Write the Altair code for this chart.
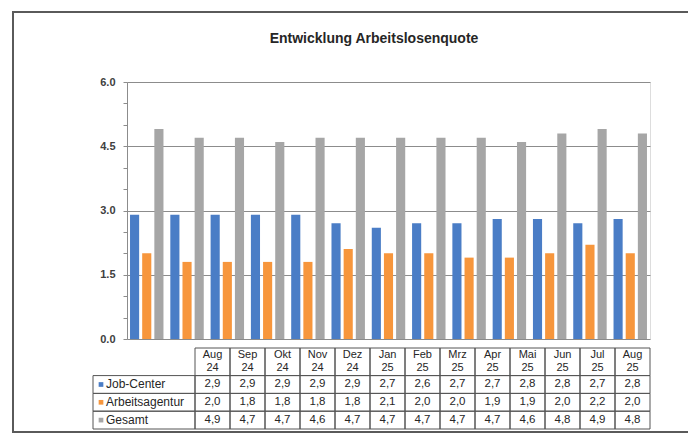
import altair as alt
import pandas as pd

# ---------------- data ----------------
months = ["Aug 24", "Sep 24", "Okt 24", "Nov 24", "Dez 24", "Jan 25", "Feb 25",
          "Mrz 25", "Apr 25", "Mai 25", "Jun 25", "Jul 25", "Aug 25"]
series = ["Job-Center", "Arbeitsagentur", "Gesamt"]
job_center = [2.9, 2.9, 2.9, 2.9, 2.9, 2.7, 2.6, 2.7, 2.7, 2.8, 2.8, 2.7, 2.8]
arbeitsagentur = [2.0, 1.8, 1.8, 1.8, 1.8, 2.1, 2.0, 2.0, 1.9, 1.9, 2.0, 2.2, 2.0]
gesamt = [4.9, 4.7, 4.7, 4.6, 4.7, 4.7, 4.7, 4.7, 4.7, 4.6, 4.8, 4.9, 4.8]
y_ticks = [0.0, 1.5, 3.0, 4.5, 6.0]
colors = ["#4A7DC6", "#F7963C", "#A6A6A6"]
chart_title = "Entwicklung  Arbeitslosenquote"

values_by_series = {"Job-Center": job_center, "Arbeitsagentur": arbeitsagentur, "Gesamt": gesamt}

# ---------------- layout (pixels, plot-area coordinates) ----------------
W, H = 523, 257
PAD = {"left": 119, "top": 74, "right": 38, "bottom": 94}   # whole svg = 680 x 425
TABLE_X = [68, 523]          # data columns of the table
LEG_X = [-34, 68]            # legend column of the table
TABLE_Y = [266, 347]         # table top / bottom
HEADER_UNITS = 1.55          # header row is taller than a data row
FONT = "Liberation Sans"

# bars
bar_rows = []
for s in series:
    for m, v in zip(months, values_by_series[s]):
        bar_rows.append({"month": m, "series": s, "value": v})
bar_df = pd.DataFrame(bar_rows)

# table cells
head_rows = [{"month": m, "y0": 0.0, "y1": HEADER_UNITS, "mid": HEADER_UNITS / 2, "text": m}
             for m in months]
val_rows = []
for i, s in enumerate(series):
    y0 = HEADER_UNITS + i
    for m, v in zip(months, values_by_series[s]):
        val_rows.append({"month": m, "y0": y0, "y1": y0 + 1, "mid": y0 + 0.5,
                         "text": f"{v:.1f}".replace(".", ",")})
head_df = pd.DataFrame(head_rows)
val_df = pd.DataFrame(val_rows)
cell_df = pd.concat([head_df, val_df], ignore_index=True)

leg_df = pd.DataFrame([{"series": s, "y0": HEADER_UNITS + i, "y1": HEADER_UNITS + i + 1,
                        "mid": HEADER_UNITS + i + 0.5} for i, s in enumerate(series)])

row_scale = alt.Scale(domain=[0, HEADER_UNITS + len(series)], range=TABLE_Y, nice=False, zero=False)
col_scale = alt.Scale(domain=months, range=TABLE_X, paddingInner=0, paddingOuter=0)
color_scale = alt.Scale(domain=series, range=colors)

major_test = "abs(datum.value / 1.5 - round(datum.value / 1.5)) < 0.01"
minor_vals = [i * 0.5 for i in range(int(y_ticks[-1] / 0.5) + 1)]

bars = alt.Chart(bar_df).mark_bar().encode(
    x=alt.X("month:N", sort=months, title=None, axis=None,
            scale=alt.Scale(domain=months, paddingInner=0.17, paddingOuter=0.075)),
    xOffset=alt.XOffset("series:N", sort=series,
                        scale=alt.Scale(domain=series, paddingInner=0.25, paddingOuter=0)),
    y=alt.Y("value:Q", title=None,
            scale=alt.Scale(domain=[y_ticks[0], y_ticks[-1]], nice=False),
            axis=alt.Axis(values=minor_vals,
                          labelExpr=f"{major_test} ? format(datum.value, '.1f') : ''",
                          grid=True,
                          gridOpacity={"condition": {"test": major_test, "value": 1}, "value": 0},
                          gridColor="#8C8C8C", gridWidth=1,
                          tickSize=4, tickColor="#8C8C8C", domainColor="#8C8C8C",
                          labelFontSize=11, labelFontWeight="bold", labelColor="#404040",
                          labelPadding=8, labelFont=FONT)),
    color=alt.Color("series:N", scale=color_scale, legend=None),
)

cells = alt.Chart(cell_df).mark_rect(fillOpacity=0, stroke="#555555", strokeWidth=1).encode(
    x=alt.X("month:N", scale=col_scale, axis=None),
    y=alt.Y("y0:Q", scale=row_scale, axis=None),
    y2="y1:Q",
)

head_text = alt.Chart(head_df).mark_text(fontSize=11, font=FONT, color="#262626",
                                         lineBreak=" ", lineHeight=13, baseline="middle",
                                         dy=-6.5).encode(
    x=alt.X("month:N", scale=col_scale, axis=None),
    y=alt.Y("mid:Q", scale=row_scale, axis=None),
    text="text:N",
)

val_text = alt.Chart(val_df).mark_text(fontSize=11.5, font=FONT, color="#262626",
                                       baseline="middle").encode(
    x=alt.X("month:N", scale=col_scale, axis=None),
    y=alt.Y("mid:Q", scale=row_scale, axis=None),
    text="text:N",
)

leg_cells = alt.Chart(leg_df).mark_rect(fillOpacity=0, stroke="#555555", strokeWidth=1).encode(
    x=alt.value(LEG_X[0]), x2=alt.value(LEG_X[1]),
    y=alt.Y("y0:Q", scale=row_scale, axis=None),
    y2="y1:Q",
)

leg_sq = alt.Chart(leg_df).mark_square(size=22, opacity=1).encode(
    x=alt.value(LEG_X[0] + 8),
    y=alt.Y("mid:Q", scale=row_scale, axis=None),
    color=alt.Color("series:N", scale=color_scale, legend=None),
)

leg_text = alt.Chart(leg_df).mark_text(align="left", baseline="middle", fontSize=12,
                                       font=FONT, color="#262626").encode(
    x=alt.value(LEG_X[0] + 13),
    y=alt.Y("mid:Q", scale=row_scale, axis=None),
    text="series:N",
)

one = pd.DataFrame({"t": [chart_title]})
FR_L, FR_T, FR_B, FR_R = -114, -70, 350, 600
frame_style = dict(stroke="#5A5A5A", strokeWidth=2)
frame_top = alt.Chart(one).mark_rule(**frame_style).encode(
    x=alt.value(FR_L), x2=alt.value(FR_R), y=alt.value(FR_T))
frame_bottom = alt.Chart(one).mark_rule(**frame_style).encode(
    x=alt.value(FR_L), x2=alt.value(FR_R), y=alt.value(FR_B))
frame_left = alt.Chart(one).mark_rule(**frame_style).encode(
    x=alt.value(FR_L), y=alt.value(FR_T - 1), y2=alt.value(FR_B + 1))

title_txt = alt.Chart(one).mark_text(fontSize=14, fontWeight="bold", font=FONT,
                                     color="#262626", baseline="middle").encode(
    x=alt.value(247), y=alt.value(-43), text="t:N",
)

chart = alt.layer(frame_top, frame_bottom, frame_left, bars, cells, head_text, val_text,
                  leg_cells, leg_sq, leg_text, title_txt).resolve_scale(
    x="independent", y="independent"
).properties(
    width=W, height=H,
    autosize=alt.AutoSizeParams(type="none"),
    padding=PAD,
    background="white",
).configure_view(stroke="#8C8C8C", strokeWidth=1).configure(font=FONT)

chart.save("out.html", embed_options={"renderer": "svg", "actions": False})
